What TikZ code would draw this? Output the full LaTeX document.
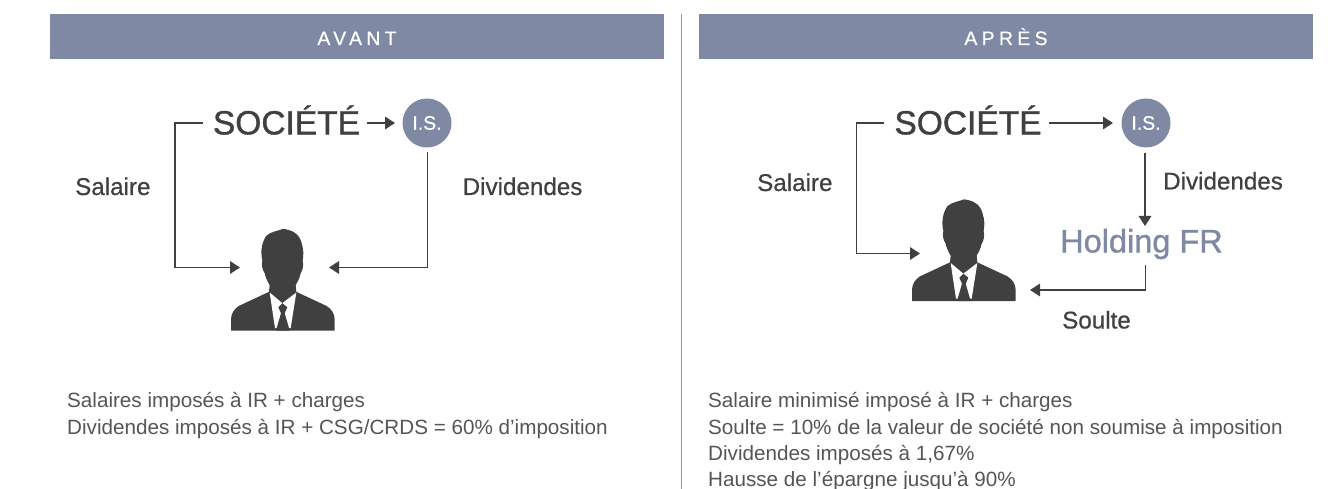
\documentclass[tikz,border=0pt]{standalone}
\usepackage{fontspec}
\setmainfont{Liberation Sans}
\usetikzlibrary{arrows.meta}
\definecolor{band}{HTML}{7F89A3}
\definecolor{ink}{HTML}{404040}
\definecolor{body}{HTML}{555555}
\definecolor{rule}{HTML}{9A9A9A}
\newcommand{\fs}[1]{\fontsize{#1}{#1}\selectfont}
\newfontfamily\medfont[FakeBold=0.6]{Liberation Sans}
\newfontfamily\bigfont[FakeBold=1.1]{Liberation Sans}
\newfontfamily\headfont[FakeBold=0.5,LetterSpace=22]{Liberation Sans}
\tikzset{
  x=1pt,y=-1pt,
  header/.style={fill=band,text=white,minimum width=614pt,minimum height=45pt,inner sep=0pt,text height=14pt,text depth=0pt,font=\headfont\fs{19.5}},
  big/.style={text=ink,inner sep=0pt,font=\bigfont\fs{33.5}},
  lab/.style={text=ink,inner sep=0pt,font=\medfont\fs{24.2}},
  isnode/.style={circle,fill=band,text=white,minimum size=49pt,inner sep=0pt,font=\medfont\fs{19.5}},
  hold/.style={text=band,inner sep=0pt,font=\bigfont\fs{32.5}},
  conn/.style={draw=ink,line width=1.7pt,-{Triangle[length=10pt,width=12.5pt]}},
  note/.style={text=body,inner sep=0pt,anchor=base west,font=\fs{20.65}},
  person/.pic={
    \begin{scope}[x=0.3333pt,y=-0.3333pt,shift={(-192,-332)}]
      \fill[ink] (36,332) -- (36,298) .. controls (37,280) and (45,268) .. (60,258)
        -- (150,216) -- (152,196) .. controls (146,185) and (140,175) .. (137,160)
        .. controls (130,150) and (127,135) .. (130,122)
        .. controls (124,95) and (128,68) .. (142,48)
        .. controls (155,35) and (175,34) .. (192,27)
        .. controls (215,30) and (240,38) .. (248,70)
        .. controls (254,90) and (254,105) .. (251,122)
        .. controls (254,135) and (252,150) .. (245,160)
        .. controls (242,175) and (236,185) .. (230,196)
        -- (232,216) -- (322,258) .. controls (338,268) and (346,280) .. (347,298)
        -- (347,332) -- cycle;
      \fill[white] (152,218) -- (190,250) -- (232,218) -- (215,325) -- (168,325) -- cycle;
      \fill[ink] (190,250) -- (178,262) -- (186,280) -- (171,332) -- (212,332) -- (197,280) -- (205,262) -- cycle;
    \end{scope}
  }
}
\begin{document}
\begin{tikzpicture}
\useasboundingbox (0,0) rectangle (1334,489);
% headers
\node[header] (h1) at (357,36.5) {\raisebox{-1.5pt}{AVANT}};
\node[header] (h2) at (1006,36.5) {\raisebox{-1.5pt}{APRÈS}};
\coordinate (rt) at (681.5,14);
\coordinate (rb) at (681.5,489);
\draw[rule,line width=1pt] (rt) -- (rb);
% left diagram
\node[big] (s1) at (286.5,120) {SOCIÉTÉ};
\node[isnode] (is1) at (427,123) {I.S.};
\pic (p1) at (283,330.5) {person};
\coordinate (p1l) at (240,267.5);
\coordinate (p1r) at (329,267.5);
\coordinate (s1w) at (203,123);
\coordinate (s1a) at (367,123);
\coordinate (is1d) at (427.5,152);
\draw[conn] (s1w) -- (175,123) -- (175,267.5) -- (p1l);
\draw[conn] (s1a) -- (395,123);
\draw[conn] (is1d) -- (427.5,267.5) -- (p1r);
\node[lab,anchor=base west] (sal1) at (75,195) {Salaire};
\node[lab,anchor=base west] (div1) at (462.5,195) {Dividendes};
\node[note] (n1a) at (67,407.5) {Salaires imposés à IR + charges};
\node[note] (n1b) at (67,434) {Dividendes imposés à IR + CSG/CRDS = 60\% d’imposition};
% right diagram
\node[big] (s2) at (968,120) {SOCIÉTÉ};
\node[isnode] (is2) at (1146,123) {I.S.};
\pic (p2) at (964,301) {person};
\node[hold] (hf) at (1141.5,244) {Holding FR};
\coordinate (p2l) at (920,253.5);
\coordinate (p2r) at (1030,290);
\coordinate (s2w) at (884,123);
\coordinate (s2a) at (1049,123);
\coordinate (is2d) at (1145,153);
\coordinate (hfd) at (1145.5,265);
\draw[conn] (s2w) -- (856.5,123) -- (856.5,253.5) -- (p2l);
\draw[conn] (s2a) -- (1113,123);
\draw[conn] (is2d) -- (1145,226);
\draw[conn] (hfd) -- (1145.5,290) -- (p2r);
\node[lab,anchor=base west] (sal2) at (757,191) {Salaire};
\node[lab,anchor=base west] (div2) at (1163,189.5) {Dividendes};
\node[lab,anchor=base west] (sou) at (1062,328.5) {Soulte};
\node[note] (n2a) at (708,407.5) {Salaire minimisé imposé à IR + charges};
\node[note] (n2b) at (708,434) {Soulte = 10\% de la valeur de société non soumise à imposition};
\node[note] (n2c) at (708,460) {Dividendes imposés à 1,67\%};
\node[note] (n2d) at (708,486) {Hausse de l’épargne jusqu’à 90\%};
\end{tikzpicture}
\end{document}
